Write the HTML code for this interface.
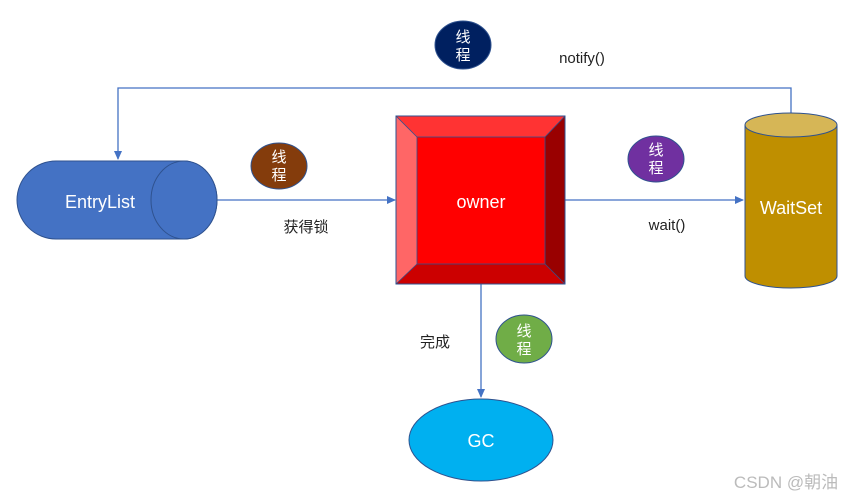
<!DOCTYPE html>
<html><head><meta charset="utf-8"><style>
html,body{margin:0;padding:0;background:#fff;}
svg{display:block;}
text{font-family:"Liberation Sans","Noto Sans CJK SC",sans-serif;}
</style></head><body>
<svg width="856" height="500" viewBox="0 0 856 500" xmlns="http://www.w3.org/2000/svg">
<defs>
<marker id="a" markerWidth="10" markerHeight="10" refX="8" refY="4" orient="auto" markerUnits="userSpaceOnUse">
<path d="M0,0 L9,4 L0,8 Z" fill="#4472C4"/></marker>
</defs>
<!-- connectors -->
<polyline points="791,113 791,88 118,88 118,159" fill="none" stroke="#4472C4" stroke-width="1.3" marker-end="url(#a)"/>
<line x1="217" y1="200" x2="395" y2="200" stroke="#4472C4" stroke-width="1.3" marker-end="url(#a)"/>
<line x1="565" y1="200" x2="743" y2="200" stroke="#4472C4" stroke-width="1.3" marker-end="url(#a)"/>
<line x1="481" y1="284" x2="481" y2="397" stroke="#4472C4" stroke-width="1.3" marker-end="url(#a)"/>
<!-- EntryList -->
<path d="M56,161 L184,161 A33,39 0 0 1 184,239 L56,239 A39,39 0 0 1 56,161 Z" fill="#4472C4" stroke="#2F528F" stroke-width="1"/>
<ellipse cx="184" cy="200" rx="33" ry="39" fill="#4472C4" stroke="#2F528F" stroke-width="1"/>
<text x="100" y="208" font-size="18" fill="#fff" text-anchor="middle">EntryList</text>
<!-- owner -->
<rect x="396" y="116" width="169" height="168" fill="#FF0000"/>
<polygon points="396,116 565,116 545,137 417,137" fill="#FF3333"/>
<polygon points="396,116 417,137 417,264 396,284" fill="#FF6666"/>
<polygon points="565,116 565,284 545,264 545,137" fill="#990000"/>
<polygon points="396,284 417,264 545,264 565,284" fill="#CC0000"/>
<rect x="396" y="116" width="169" height="168" fill="none" stroke="#2F528F" stroke-width="1"/>
<rect x="417" y="137" width="128" height="127" fill="none" stroke="#2F528F" stroke-width="0.8"/>
<line x1="396" y1="116" x2="417" y2="137" stroke="#2F528F" stroke-width="0.8"/>
<line x1="565" y1="116" x2="545" y2="137" stroke="#2F528F" stroke-width="0.8"/>
<line x1="396" y1="284" x2="417" y2="264" stroke="#2F528F" stroke-width="0.8"/>
<line x1="565" y1="284" x2="545" y2="264" stroke="#2F528F" stroke-width="0.8"/>
<text x="481" y="208" font-size="18" fill="#fff" text-anchor="middle">owner</text>
<!-- WaitSet -->
<path d="M745,125 L745,276 A46,12 0 0 0 837,276 L837,125 Z" fill="#BF8F00" stroke="#2F528F" stroke-width="1"/>
<ellipse cx="791" cy="125" rx="46" ry="12" fill="#D6B656" stroke="#2F528F" stroke-width="1"/>
<text x="791" y="214" font-size="18" fill="#fff" text-anchor="middle">WaitSet</text>
<!-- GC -->
<ellipse cx="481" cy="440" rx="72" ry="41" fill="#00B0F0" stroke="#2F528F" stroke-width="1"/>
<text x="481" y="447" font-size="18" fill="#fff" text-anchor="middle">GC</text>
<!-- thread circles -->
<g font-size="15" fill="#fff" text-anchor="middle">
<ellipse cx="463" cy="45" rx="28" ry="24" fill="#002060" stroke="#2F528F"/>
<text x="463" y="42">线</text><text x="463" y="60">程</text>
<ellipse cx="279" cy="166" rx="28" ry="23" fill="#843C0C" stroke="#2F528F"/>
<text x="279" y="162">线</text><text x="279" y="180">程</text>
<ellipse cx="656" cy="159" rx="28" ry="23" fill="#7030A0" stroke="#2F528F"/>
<text x="656" y="155">线</text><text x="656" y="173">程</text>
<ellipse cx="524" cy="339" rx="28" ry="24" fill="#70AD47" stroke="#2F528F"/>
<text x="524" y="336">线</text><text x="524" y="354">程</text>
</g>
<!-- labels -->
<g font-size="15" fill="#222" text-anchor="middle">
<text x="582" y="63">notify()</text>
<text x="306" y="232">获得锁</text>
<text x="667" y="230">wait()</text>
<text x="435" y="347">完成</text>
</g>
<text x="786" y="488" font-size="17" fill="#bbb" text-anchor="middle">CSDN @朝油</text>
</svg>
</body></html>
